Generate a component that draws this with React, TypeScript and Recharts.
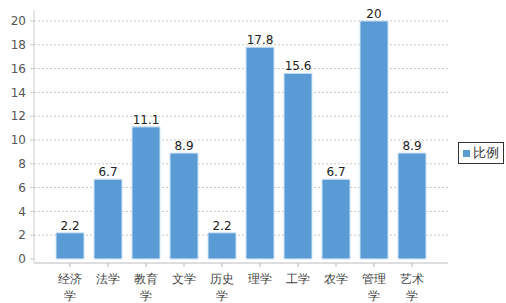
import React from 'react';
import { BarChart, Bar, XAxis, YAxis, CartesianGrid, Legend, LabelList } from 'recharts';

const categories = ['经济学', '法学', '教育学', '文学', '历史学', '理学', '工学', '农学', '管理学', '艺术学'];
const ratios = [2.2, 6.7, 11.1, 8.9, 2.2, 17.8, 15.6, 6.7, 20, 8.9];
const yTicks = [0, 2, 4, 6, 8, 10, 12, 14, 16, 18, 20];
const gridValues = [2, 4, 6, 8, 10, 12, 14, 16, 18, 20];
const seriesName = '比例';

const data = categories.map((c, i) => ({ name: c, value: ratios[i] }));

const FONT = '"DejaVu Sans", Verdana, sans-serif';
const BAR_COLOR = '#5b9bd5';

const XTick = (props: any) => {
  const { x, y, payload } = props;
  const s: string = payload.value;
  const lines = s.length > 2 ? [s.slice(0, 2), s.slice(2)] : [s];
  return (
    <g>
      {lines.map((l, i) => (
        <text
          key={i}
          x={x}
          y={y + 14 + i * 17}
          textAnchor="middle"
          fill="#444"
          fontSize={12}
          fontFamily={FONT}
        >
          {l}
        </text>
      ))}
    </g>
  );
};

const LegendContent = () => (
  <div
    style={{
      border: '1px solid #333',
      padding: '2px 4px',
      display: 'flex',
      alignItems: 'center',
      fontFamily: FONT,
      fontSize: 13,
      color: '#333',
      background: '#fff',
      lineHeight: '16px',
    }}
  >
    <span style={{ display: 'inline-block', width: 7, height: 7, background: BAR_COLOR, marginRight: 3 }} />
    <span>{seriesName}</span>
  </div>
);

export default function App() {
  return (
    <div style={{ position: 'absolute', left: 0, top: 0, width: 506, height: 303, background: '#fff' }}>
      <BarChart
        width={506}
        height={303}
        data={data}
        margin={{ top: 10, right: 12, bottom: 0, left: 0 }}
        barSize={28}
      >
        <CartesianGrid
          vertical={false}
          horizontalValues={gridValues}
          stroke="#c8c8c8"
          strokeDasharray="2 2"
        />
        <XAxis
          dataKey="name"
          height={40}
          padding={{ left: 17, right: 17 }}
          tick={<XTick />}
          tickSize={4}
          axisLine={{ stroke: '#bbb' }}
          tickLine={{ stroke: '#bbb' }}
          interval={0}
        />
        <YAxis
          width={34}
          domain={[-0.34, 20.92]}
          ticks={yTicks}
          allowDataOverflow
          tickSize={4}
          tickMargin={4}
          axisLine={{ stroke: '#ccc' }}
          tickLine={{ stroke: '#ccc' }}
          tick={{ fill: '#555', fontSize: 12, fontFamily: FONT }}
        />
        <Legend
          layout="horizontal"
          verticalAlign="middle"
          align="right"
          content={<LegendContent />}
          wrapperStyle={{ position: 'absolute', left: 458, top: 142, width: 'auto' }}
        />
        <Bar
          dataKey="value"
          name={seriesName}
          fill={BAR_COLOR}
          stroke="#cfe3f5"
          strokeWidth={1}
          isAnimationActive={false}
        >
          <LabelList
            dataKey="value"
            position="top"
            offset={3}
            fill="#222"
            fontSize={12}
            fontFamily={FONT}
          />
        </Bar>
      </BarChart>
    </div>
  );
}
